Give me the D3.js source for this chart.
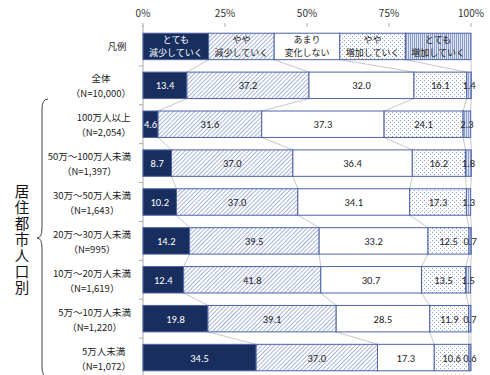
<!DOCTYPE html>
<html>
<head>
<meta charset="utf-8">
<script src="https://cdn.jsdelivr.net/npm/d3@7"></script>
<style>
  body { margin: 0; background: #fff; }
  svg { font-family: "Noto Sans CJK JP", "Noto Sans", sans-serif; }
</style>
</head>
<body>
<div id="chart"></div>
<script>
const categories = ["凡例", "全体", "100万人以上", "50万～100万人未満", "30万～50万人未満",
  "20万～30万人未満", "10万～20万人未満", "5万～10万人未満", "5万人未満"];
const nLabels = ["", "（N=10,000）", "（N=2,054）", "（N=1,397）", "（N=1,643）",
  "（N=995）", "（N=1,619）", "（N=1,220）", "（N=1,072）"];
const seriesNames = ["とても減少していく", "やや減少していく", "あまり変化しない", "やや増加していく", "とても増加していく"];
const legendLines = [["とても", "減少していく"], ["やや", "減少していく"], ["あまり", "変化しない"], ["やや", "増加していく"], ["とても", "増加していく"]];
const legendValues = [20, 20, 20, 20, 20];
const veryDecrease = [13.4, 4.6, 8.7, 10.2, 14.2, 12.4, 19.8, 34.5];
const slightDecrease = [37.2, 31.6, 37.0, 37.0, 39.5, 41.8, 39.1, 37.0];
const noChange = [32.0, 37.3, 36.4, 34.1, 33.2, 30.7, 28.5, 17.3];
const slightIncrease = [16.1, 24.1, 16.2, 17.3, 12.5, 13.5, 11.9, 10.6];
const veryIncrease = [1.4, 2.3, 1.8, 1.3, 0.7, 1.5, 0.7, 0.6];
const xTicks = [0, 25, 50, 75, 100];
const groupTitle = "居住都市人口別";

const width = 490, height = 375;
const margin = { top: 27, right: 19, bottom: -2, left: 143 };

const svg = d3.select("#chart").append("svg")
  .attr("width", width).attr("height", height);

// patterns
const defs = svg.append("defs");
const hatch = defs.append("pattern").attr("id", "hatch")
  .attr("patternUnits", "userSpaceOnUse").attr("width", 3).attr("height", 3)
  .attr("patternTransform", "rotate(45)");
hatch.append("rect").attr("width", 3).attr("height", 3).attr("fill", "#fff");
hatch.append("line").attr("x1", 0).attr("y1", 0).attr("x2", 0).attr("y2", 3)
  .attr("stroke", "#5f76bb").attr("stroke-width", 1.1);
const dots = defs.append("pattern").attr("id", "dots")
  .attr("patternUnits", "userSpaceOnUse").attr("width", 4).attr("height", 4);
dots.append("rect").attr("width", 4).attr("height", 4).attr("fill", "#fff");
dots.append("rect").attr("x", 0).attr("y", 0).attr("width", 1).attr("height", 1).attr("fill", "#8ea2d6");
dots.append("rect").attr("x", 2).attr("y", 2).attr("width", 1).attr("height", 1).attr("fill", "#8ea2d6");
const dense = defs.append("pattern").attr("id", "dense")
  .attr("patternUnits", "userSpaceOnUse").attr("width", 2).attr("height", 2);
dense.append("rect").attr("width", 2).attr("height", 2).attr("fill", "#dfe5f3");
dense.append("rect").attr("x", 0).attr("y", 0).attr("width", 1).attr("height", 2).attr("fill", "#8b9dcb");

const fills = ["#172e5e", "url(#hatch)", "#fff", "url(#dots)", "url(#dense)"];

const rows = categories.map((c, i) => {
  const vals = i === 0 ? legendValues
    : [veryDecrease, slightDecrease, noChange, slightIncrease, veryIncrease].map(a => a[i - 1]);
  const row = { k: c, n: nLabels[i], legend: i === 0 };
  seriesNames.forEach((s, j) => row[s] = vals[j]);
  return row;
});

const stacked = d3.stack().keys(seriesNames)(rows);

const x = d3.scaleLinear().domain([0, 100]).range([margin.left, width - margin.right]);
const y = d3.scaleBand().domain(categories)
  .range([margin.top, height - margin.bottom]).paddingInner(0.32).paddingOuter(0.16);
const band = y.step();

// top axis ticks
const axisG = svg.append("g");
axisG.selectAll("text").data(xTicks).join("text")
  .attr("x", d => x(d)).attr("y", 17)
  .attr("text-anchor", "middle").attr("font-size", 10).attr("fill", "#333")
  .text(d => d + "%");
axisG.selectAll("line").data(xTicks).join("line")
  .attr("x1", d => x(d)).attr("x2", d => x(d)).attr("y1", 23).attr("y2", 27)
  .attr("stroke", "#aaa");

// left axis line and category ticks
const topY = margin.top - 2;
svg.append("line").attr("x1", x(0)).attr("x2", x(0)).attr("y1", topY).attr("y2", height)
  .attr("stroke", "#aaa");
svg.append("g").selectAll("line").data(categories.slice(1)).join("line")
  .attr("x1", x(0) - 4).attr("x2", x(0))
  .attr("y1", d => y(d) - (band - y.bandwidth()) / 2)
  .attr("y2", d => y(d) - (band - y.bandwidth()) / 2)
  .attr("stroke", "#aaa");

// series lines between bars
const seriesLines = svg.append("g").attr("stroke", "#c8c8c8").attr("fill", "none");
stacked.forEach(layer => {
  for (let i = 0; i < layer.length - 1; i++) {
    seriesLines.append("line")
      .attr("x1", x(layer[i][1])).attr("y1", y(categories[i]) + y.bandwidth())
      .attr("x2", x(layer[i + 1][1])).attr("y2", y(categories[i + 1]));
  }
});

// bars
const groups = svg.selectAll("g.layer").data(stacked).join("g")
  .attr("class", "layer").attr("fill", (d, i) => fills[i]);
groups.selectAll("rect").data(d => d).join("rect")
  .attr("x", d => x(d[0]))
  .attr("y", d => y(d.data.k))
  .attr("width", d => x(d[1]) - x(d[0]))
  .attr("height", y.bandwidth())
  .attr("stroke", "#4d62a8").attr("stroke-width", 1);

// labels in bars
stacked.forEach((layer, j) => {
  const g = svg.append("g").attr("text-anchor", "middle")
    .attr("fill", j === 0 ? "#fff" : "#222");
  layer.forEach((d, i) => {
    const cx = (x(d[0]) + x(d[1])) / 2;
    const cy = y(d.data.k) + y.bandwidth() / 2;
    if (d.data.legend) {
      g.append("text").attr("x", cx).attr("y", cy - 3.5).attr("font-size", 9)
        .text(legendLines[j][0]);
      g.append("text").attr("x", cx).attr("y", cy + 9.5).attr("font-size", 9)
        .text(legendLines[j][1]);
    } else {
      g.append("text").attr("x", cx).attr("y", cy + 4).attr("font-size", 10.5)
        .attr("font-family", "Calibri, Carlito, 'Liberation Sans', sans-serif")
        .text(d.data[seriesNames[j]].toFixed(1));
    }
  });
});

// category labels: two lines centred on each other, widest one ends near the axis
const catG = svg.append("g").attr("text-anchor", "middle").attr("fill", "#222").attr("font-size", 9.5);
rows.forEach(r => {
  const cy = y(r.k) + y.bandwidth() / 2;
  if (r.legend) {
    catG.append("text").attr("x", 117).attr("y", cy + 4).text(r.k);
  } else {
    const t1 = catG.append("text").attr("y", cy - 3).text(r.k);
    const t2 = catG.append("text").attr("y", cy + 12).text(r.n);
    const w = Math.max(t1.node().getComputedTextLength(), t2.node().getComputedTextLength());
    const cx = 131 - w / 2;
    t1.attr("x", cx);
    t2.attr("x", cx);
  }
});

// brace
const bTop = y(categories[2]) - 12, bBot = height + 2, bMid = (bTop + bBot) / 2;
svg.append("path")
  .attr("d", `M48,${bTop} Q42,${bTop} 42,${bTop + 10} L42,${bMid - 10} Q42,${bMid} 37,${bMid}
              Q42,${bMid} 42,${bMid + 10} L42,${bBot - 10} Q42,${bBot} 48,${bBot}`)
  .attr("fill", "none").attr("stroke", "#444").attr("stroke-width", 1);

// vertical title
svg.append("text")
  .attr("x", 22).attr("y", 184)
  .attr("writing-mode", "vertical-rl")
  .attr("letter-spacing", 1.5)
  .attr("font-size", 14.5).attr("fill", "#111")
  .text(groupTitle);
</script>
</body>
</html>
